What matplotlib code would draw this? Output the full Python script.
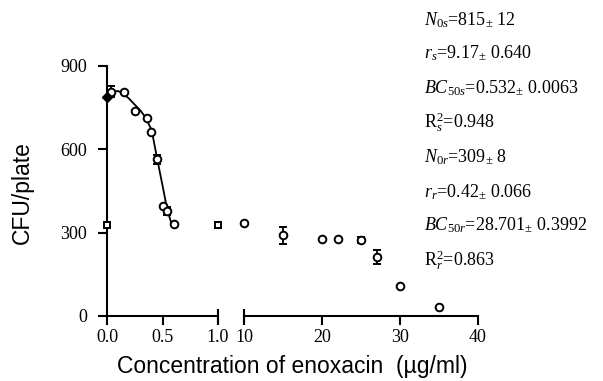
import matplotlib
matplotlib.use('Agg')
import matplotlib.pyplot as plt

plt.rcParams['mathtext.fontset'] = 'custom'
plt.rcParams['mathtext.rm'] = 'Liberation Serif'
plt.rcParams['mathtext.it'] = 'Liberation Serif:italic'

# sensitive population, 0 - 1 ug/ml
sens_x = [0.0, 0.04, 0.15, 0.25, 0.36, 0.40, 0.45, 0.50, 0.54, 0.60]
sens_y = [788, 808, 805, 739, 712, 661, 564, 397, 379, 331]
sens_err = [0, 20, 0, 0, 0, 0, 16, 0, 15, 0]

# fitted curve
fit_x = [0.0, 0.012, 0.057, 0.10, 0.147, 0.20, 0.252, 0.30, 0.342, 0.402, 0.453, 0.508, 0.543, 0.583]
fit_y = [790, 800, 808, 810, 800, 782, 760, 740, 718, 670, 564, 454, 382, 330]

# resistant population at low concentrations (squares)
res_low_x = [0.0, 1.0]
res_low_y = [328, 327]
res_low_err = [10, 10]

# resistant population, 10 - 40 ug/ml
res_x = [10, 15, 20, 22, 25, 27, 30, 35]
res_y = [334, 290, 276, 277, 274, 213, 108, 31]
res_err = [0, 30, 0, 0, 12, 25, 0, 0]

params = [
    r'$N_{0s}$=815$_{\pm}$ 12',
    r'$r_s$=9.17$_{\pm}$ 0.640',
    r'$BC_{50s}$=0.532$_{\pm}$ 0.0063',
    r'R$^{2}_{s}$=0.948',
    r'$N_{0r}$=309$_{\pm}$ 8',
    r'$r_r$=0.42$_{\pm}$ 0.066',
    r'$BC_{50r}$=28.701$_{\pm}$ 0.3992',
    r'R$^{2}_{r}$=0.863',
]

W, H = 603, 381
fig = plt.figure(figsize=(W / 100, H / 100), dpi=100)
bottom = 1 - 316 / H
height = (316 - 66) / H
ax1 = fig.add_axes([107 / W, bottom, 111 / W, height])
ax2 = fig.add_axes([244 / W, bottom, 234 / W, height])

serif = 'Liberation Serif'
sans = 'Liberation Sans'
mk = dict(ms=5.5, mew=1.4, mfc='white', mec='black', color='black',
          ecolor='black', elinewidth=1.3, capsize=3, capthick=1.3,
          ls='none', clip_on=False, zorder=3)

# left panel
ax1.plot(fit_x, fit_y, color='black', lw=1.3, zorder=2)
ax1.errorbar(sens_x[1:], sens_y[1:], yerr=sens_err[1:], marker='o', **mk)
ax1.plot(sens_x[:1], sens_y[:1], marker='D', ms=5, color='black',
         ls='none', clip_on=False, zorder=4)
ax1.errorbar(res_low_x, res_low_y, yerr=res_low_err, marker='s', **dict(mk, ms=5))

ax1.set_xlim(0, 1.0)
ax1.set_ylim(0, 900)
ax1.set_xticks([0.0, 0.5, 1.0])
ax1.set_xticklabels(['0.0', '0.5', '1.0'])
ax1.set_yticks([0, 300, 600, 900])
ax1.spines['top'].set_visible(False)
ax1.spines['right'].set_visible(False)
ax1.tick_params(axis='y', pad=8)

# right panel
ax2.errorbar(res_x, res_y, yerr=res_err, marker='o', **mk)
ax2.set_xlim(10, 40)
ax2.set_ylim(0, 900)
ax2.set_xticks([10, 20, 30, 40])
ax2.set_yticks([])
for s in ['top', 'right', 'left']:
    ax2.spines[s].set_visible(False)

for ax in (ax1, ax2):
    ax.spines['bottom'].set_linewidth(1.5)
    ax.spines['left'].set_linewidth(1.5)
    ax.tick_params(direction='out', length=6.5, width=1.5, labelsize=13)
    ax.tick_params(axis='x', pad=3)
    for lab in ax.get_xticklabels() + ax.get_yticklabels():
        lab.set_family(serif)

# break bars at the axis ends
ax1.plot([1.0], [0], marker='|', ms=9.5, mew=1.5, color='black',
         transform=ax1.get_xaxis_transform(), clip_on=False)
ax2.plot([10], [0], marker='|', ms=9.5, mew=1.5, color='black',
         transform=ax2.get_xaxis_transform(), clip_on=False)

# labels
fig.text(22 / W, 1 - 193 / H, 'CFU/plate', rotation=90, ha='center', va='center',
         family=sans, fontsize=16.5)
fig.text(292 / W, 1 - 367 / H, 'Concentration of enoxacin  (\u00b5g/ml)',
         ha='center', va='center', family=sans, fontsize=16.5)

# fit parameters
row_y = [20, 53, 88, 122, 157, 192, 225, 260]
for txt, yy in zip(params, row_y):
    fig.text(424 / W, 1 - yy / H, txt, ha='left', va='center',
             family=serif, fontsize=13)

fig.savefig('out.png', dpi=100)
